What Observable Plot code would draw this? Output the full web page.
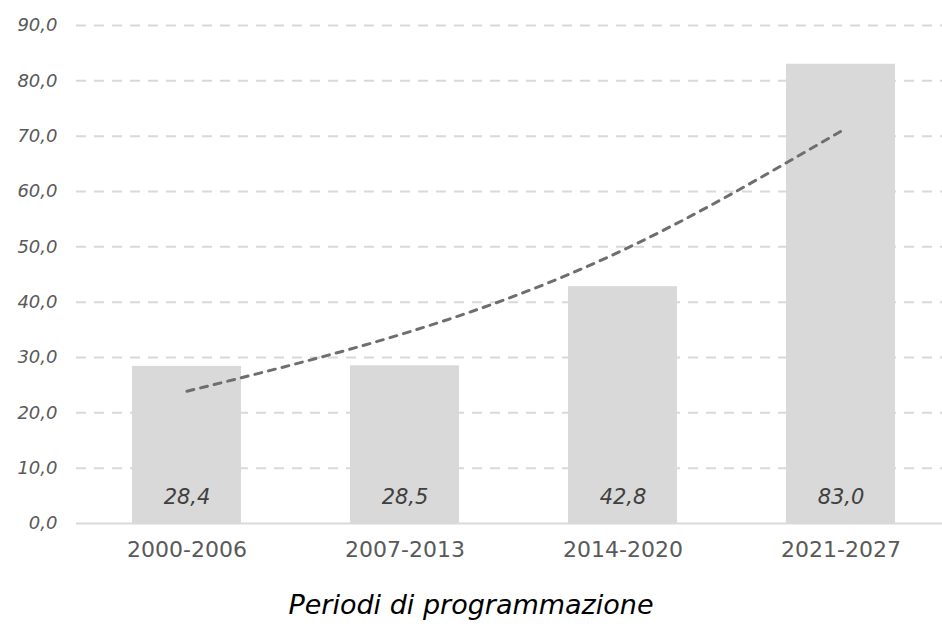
<!DOCTYPE html>
<html><head><meta charset="utf-8">
<script src="https://cdn.jsdelivr.net/npm/d3@7"></script>
<script src="https://cdn.jsdelivr.net/npm/@observablehq/plot@0.6"></script>
<style>
body{margin:0;background:#fff;font-family:"DejaVu Sans",Verdana,sans-serif;}
#title{width:942px;text-align:center;font-style:italic;font-size:27px;color:#000;margin-top:19px;}
</style></head><body>
<div id="chart"></div>
<div id="title">Periodi di programmazione</div>
<script>
const periods = ["2000-2006","2007-2013","2014-2020","2021-2027"];
const values = [28.4, 28.5, 42.8, 83.0];
const trendValues = [23.9, 34.4, 49.4, 70.9];
const yTicks = [0,10,20,30,40,50,60,70,80,90];

const bars = periods.map((p,i)=>({period:p, value:values[i]}));
const trend = periods.map((p,i)=>({period:p, value:trendValues[i]}));
const fmt = v => v.toFixed(1).replace(".", ",");

const chart = Plot.plot({
  width: 942, height: 570,
  marginLeft: 76, marginRight: 0, marginTop: 25, marginBottom: 47,
  style:{fontFamily:"'DejaVu Sans',Verdana,sans-serif", background:"#fff"},
  x:{domain:periods, range:[76,951], paddingInner:0.5, paddingOuter:0.25, align:0.5, label:null},
  y:{domain:[0,90], label:null},
  marks:[
    Plot.ruleY(yTicks.filter(d=>d>0), {stroke:"#d9d9d9", strokeWidth:2, strokeDasharray:"10,8"}),
    Plot.barY(bars, {x:"period", y:"value", fill:"#d9d9d9"}),
    Plot.ruleY([0], {stroke:"#d9d9d9", strokeWidth:2}),
    Plot.line(trend, {x:"period", y:"value", stroke:"#6e6e6e", strokeWidth:3, strokeDasharray:"7,7", curve:"natural"}),
    Plot.text(bars, {x:"period", y:0, dy:-26, text:d=>fmt(d.value), fill:"#404040", fontSize:21, fontStyle:"italic"}),
    Plot.axisY({ticks:yTicks, tickFormat:fmt, tickSize:0, tickPadding:19, fontSize:18, fontStyle:"italic", color:"#595959", label:null}),
    Plot.axisX({tickSize:0, tickPadding:18, fontSize:22, color:"#595959", label:null})
  ]
});
document.getElementById("chart").appendChild(chart);
</script></body></html>
